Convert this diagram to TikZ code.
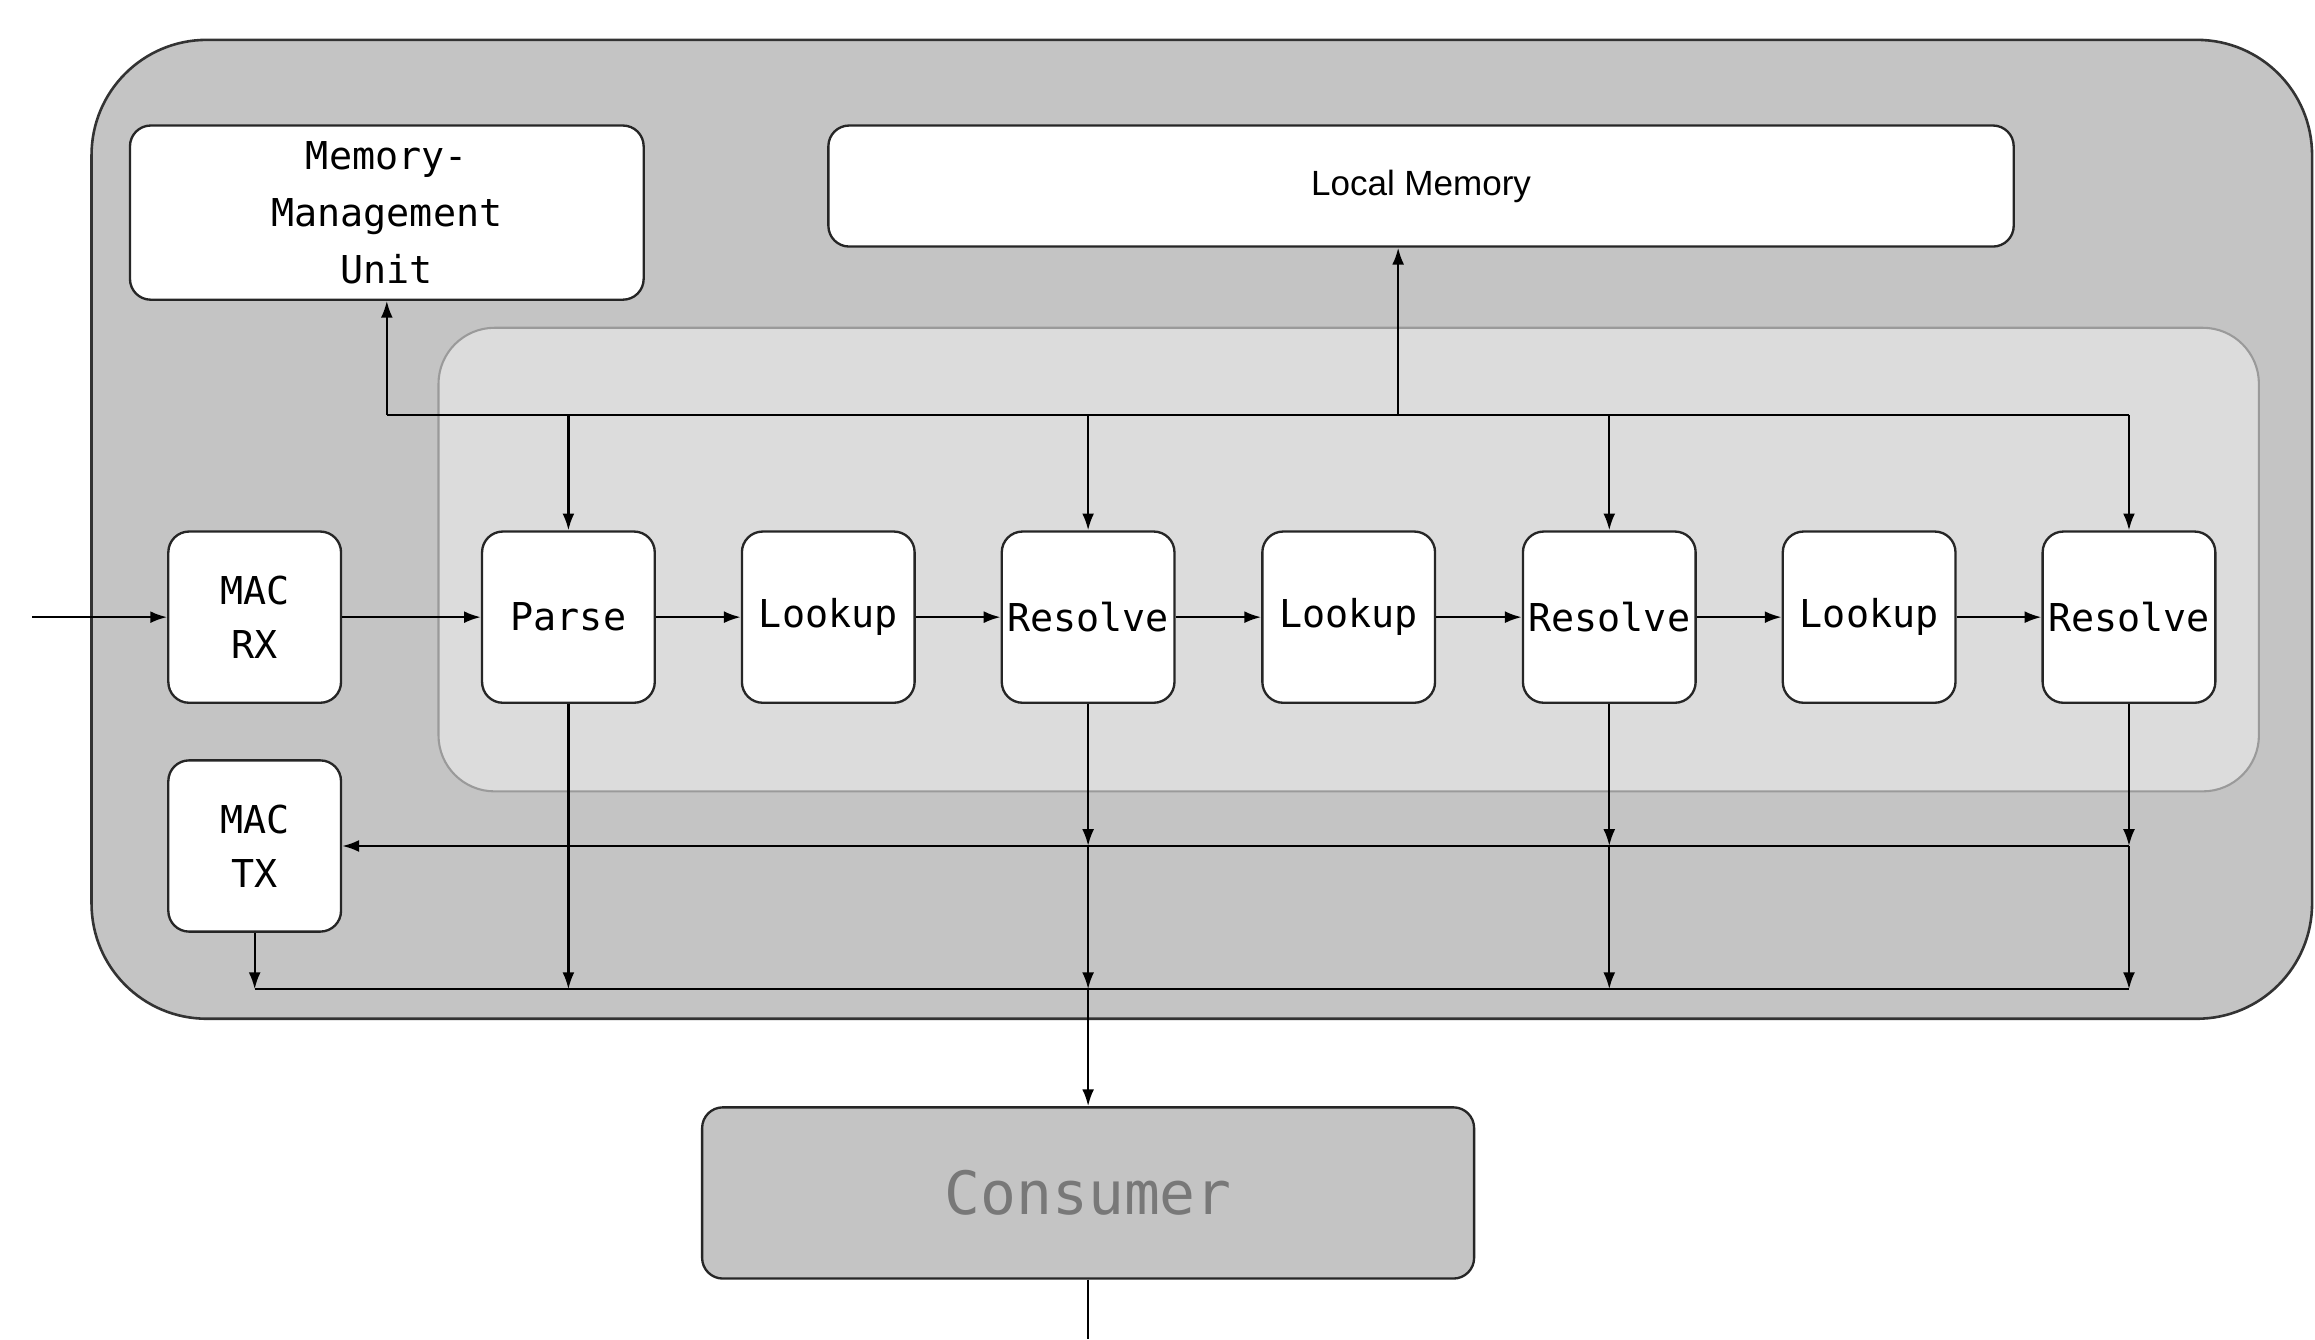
\documentclass[tikz,border=0pt]{standalone}
\usepackage{fontspec}
\setmainfont{Liberation Sans}
\newfontfamily\monof{DejaVu Sans Mono}
\usetikzlibrary{arrows.meta}
\definecolor{outerfill}{HTML}{C4C4C4}
\definecolor{innerfill}{HTML}{DCDCDC}
\definecolor{innerdraw}{HTML}{9A9A9A}
\definecolor{constext}{HTML}{787878}
\begin{document}
\begin{tikzpicture}[x=0.02cm,y=-0.02cm,
  arr/.style={-{Latex[length=6.5pt,width=4.6pt]}, line width=0.9pt},
  conn/.style={line width=0.9pt},
  blk/.style={draw=black!85, line width=0.9pt, fill=white, rounded corners=8pt,
    minimum width=2.34cm, minimum height=2.32cm, inner sep=0pt, align=center,
    font=\monof\fontsize{14.8}{21}\selectfont},
  widebox/.style={draw=black!85, line width=0.9pt, fill=white, rounded corners=8pt, inner sep=0pt, align=center}
]
\useasboundingbox (0,0) rectangle (1568,907);
% containers
\path[fill=outerfill, draw=black!80, line width=1pt, rounded corners=1.56cm] (62,27) rectangle (1566,690);
\path[fill=innerfill, draw=innerdraw, line width=0.8pt, rounded corners=0.76cm] (297,222) rectangle (1530,536);

% nodes
\node[widebox, minimum width=6.96cm, minimum height=2.36cm, font=\monof\fontsize{14.8}{22}\selectfont] (mmu) at (262,144) {Memory-\\Management\\Unit};
\node[widebox, minimum width=16.06cm, minimum height=1.64cm, font=\fontsize{13.5}{16}\selectfont] (lm) at (962.5,126) {Local Memory};
\node[blk] (rx) at (172.5,418) {MAC\\RX};
\node[blk] (tx) at (172.5,573) {MAC\\TX};
\node[blk] (parse) at (385,418) {Parse};
\node[blk] (lk1) at (561,418) {Lookup};
\node[blk] (rs1) at (737,418) {Resolve};
\node[blk] (lk2) at (913.5,418) {Lookup};
\node[blk] (rs2) at (1090,418) {Resolve};
\node[blk] (lk3) at (1266,418) {Lookup};
\node[blk] (rs3) at (1442,418) {Resolve};
\node[draw=black!85, line width=0.9pt, fill=outerfill, rounded corners=8pt,
  minimum width=10.46cm, minimum height=2.32cm, inner sep=0pt,
  text=constext, font=\monof\fontsize{23}{26}\selectfont] (cons) at (737,808) {Consumer};

% helper coordinates
\coordinate (bus) at (0,281);
\coordinate (txb) at (0,573);
\coordinate (bb) at (0,670);
\coordinate (lmtap) at (947,281);
\coordinate (in) at (22,418);
\coordinate (out) at (737,907);

% top bus
\draw[conn] (mmu.south |- bus) -- (rs3.north |- bus);
\draw[arr] (mmu.south |- bus) -- (mmu.south);
\draw[arr] (lmtap) -- (lmtap |- lm.south);
\draw[arr] (parse.north |- bus) -- (parse.north);
\draw[arr] (rs1.north |- bus) -- (rs1.north);
\draw[arr] (rs2.north |- bus) -- (rs2.north);
\draw[arr] (rs3.north |- bus) -- (rs3.north);

% pipeline
\draw[arr] (in) -- (rx.west);
\draw[arr] (rx.east) -- (parse.west);
\draw[arr] (parse.east) -- (lk1.west);
\draw[arr] (lk1.east) -- (rs1.west);
\draw[arr] (rs1.east) -- (lk2.west);
\draw[arr] (lk2.east) -- (rs2.west);
\draw[arr] (rs2.east) -- (lk3.west);
\draw[arr] (lk3.east) -- (rs3.west);

% TX bus
\draw[arr] (rs3.south |- txb) -- (tx.east);
\draw[arr] (rs1.south) -- (rs1.south |- txb);
\draw[arr] (rs2.south) -- (rs2.south |- txb);
\draw[arr] (rs3.south) -- (rs3.south |- txb);

% bottom bus
\draw[conn] (tx.south |- bb) -- (rs3.south |- bb);
\draw[arr] (tx.south) -- (tx.south |- bb);
\draw[arr] (parse.south) -- (parse.south |- bb);
\draw[arr] (rs1.south |- txb) -- (rs1.south |- bb);
\draw[arr] (rs2.south |- txb) -- (rs2.south |- bb);
\draw[arr] (rs3.south |- txb) -- (rs3.south |- bb);

% consumer
\draw[arr] (rs1.south |- bb) -- (cons.north);
\draw[conn] (cons.south) -- (out);
\end{tikzpicture}
\end{document}
